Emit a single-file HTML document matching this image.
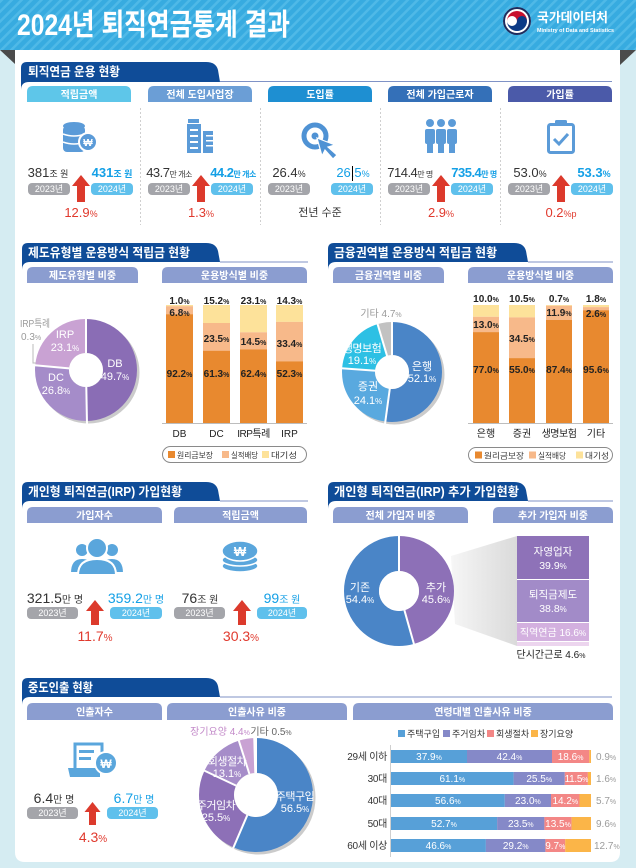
<!DOCTYPE html>
<html><head><meta charset="utf-8">
<style>
html,body{margin:0;padding:0;background:#d5ecf2;}
svg{display:block;font-family:"Liberation Sans","Noto Sans CJK KR",sans-serif;}
</style></head><body>
<svg width="636" height="868" viewBox="0 0 636 868" xmlns="http://www.w3.org/2000/svg">
<defs>
<pattern id="stripes" width="7" height="7" patternUnits="userSpaceOnUse" patternTransform="rotate(45)">
<rect width="7" height="7" fill="#37abe0"/>
<rect width="2.5" height="7" fill="#4fb9e7"/>
</pattern>
<linearGradient id="wedge" x1="0" x2="1" y1="0" y2="0"><stop offset="0" stop-color="#f6f6f6"/><stop offset="1" stop-color="#dadada"/></linearGradient>
</defs>
<rect width="636" height="868" fill="#d5ecf2"/>
<rect width="636" height="50" fill="url(#stripes)"/>
<text x="17" y="35" font-size="30" font-weight="bold" fill="#fff" textLength="273" lengthAdjust="spacingAndGlyphs">2024년 퇴직연금통계 결과</text>
<!-- logo -->
<circle cx="517" cy="21" r="14" fill="#fff"/>
<circle cx="517" cy="21" r="13" fill="none" stroke="#1d2c5e" stroke-width="2"/>
<path d="M507,21 A10,10 0 0 1 527,21 A5,5 0 0 1 517,21 A5,5 0 0 0 507,21 Z" fill="#c8102e"/>
<path d="M507,21 A5,5 0 0 0 517,21 A5,5 0 0 1 527,21 A10,10 0 0 1 507,21 Z" fill="#0b3a86"/>
<text x="537" y="22" font-size="13" font-weight="bold" fill="#fff" textLength="71" lengthAdjust="spacingAndGlyphs">국가데이터처</text>
<text x="537" y="32" font-size="5.5" font-weight="bold" fill="#fff" textLength="77" lengthAdjust="spacingAndGlyphs">Ministry of Data and Statistics</text>

<!-- panel -->
<path d="M15,50 H620 V852 Q620,862 610,862 H25 Q15,862 15,852 Z" fill="#fff"/>
<polygon points="0,50 15,50 15,64" fill="#4b4b4b"/>
<polygon points="620,50 636,50 620,65" fill="#4b4b4b"/>

<!-- ===== Section 1 ===== -->
<path d="M21,82 V68 Q21,62 27,62 H206 Q216,62 218,70 L220,82 Z" fill="#0f4c98"/>
<line x1="220" y1="81.5" x2="612" y2="81.5" stroke="#7f92c6" stroke-width="1"/>
<path d="M21,82 H29 Q21,82 21,90 Z" fill="#0f4c98"/>
<text x="28" y="76" font-size="12.5" font-weight="bold" fill="#fff" textLength="92" lengthAdjust="spacingAndGlyphs">퇴직연금 운용 현황</text>

<g font-size="10" font-weight="bold" fill="#fff" text-anchor="middle">
<path d="M27,102 V92 Q27,86 33,86 H125 Q131,86 131,92 V102 Z" fill="#5ec6e9"/>
<text x="79" y="98">적립금액</text>
<path d="M148,102 V92 Q148,86 154,86 H246 Q252,86 252,92 V102 Z" fill="#6b9ed6"/>
<text x="200" y="98">전체 도입사업장</text>
<path d="M268,102 V92 Q268,86 274,86 H366 Q372,86 372,92 V102 Z" fill="#1e8fd2"/>
<text x="320" y="98">도입률</text>
<path d="M388,102 V92 Q388,86 394,86 H486 Q492,86 492,92 V102 Z" fill="#3470b8"/>
<text x="440" y="98">전체 가입근로자</text>
<path d="M508,102 V92 Q508,86 514,86 H606 Q612,86 612,92 V102 Z" fill="#4b5aa9"/>
<text x="560" y="98">가입률</text>
</g>
<g stroke="#cfcfcf" stroke-width="1" stroke-dasharray="2,2">
<line x1="140.5" y1="108" x2="140.5" y2="225"/>
<line x1="260.5" y1="108" x2="260.5" y2="225"/>
<line x1="380.5" y1="108" x2="380.5" y2="225"/>
<line x1="500.5" y1="108" x2="500.5" y2="225"/>
</g>

<!-- icons section1 -->
<g fill="#5b9bd8">
<ellipse cx="74" cy="126" rx="11" ry="4"/>
<rect x="63" y="126" width="22" height="26" rx="4"/>
</g>
<path d="M63,134 Q74,138 85,134 M63,142 Q74,146 85,142" stroke="#fff" stroke-width="1.6" fill="none"/>
<circle cx="88" cy="142" r="9" fill="#5b9bd8" stroke="#fff" stroke-width="2"/>
<text x="88" y="146" font-size="10" font-weight="bold" fill="#fff" text-anchor="middle">₩</text>

<g fill="#5b9bd8">
<rect x="188" y="119" width="11" height="4"/>
<rect x="187" y="124" width="14" height="29"/>
<rect x="203" y="131" width="10" height="22"/>
</g>
<g fill="#fff">
<rect x="190" y="129" width="8" height="2"/><rect x="190" y="135" width="8" height="2"/><rect x="190" y="141" width="8" height="2"/><rect x="190" y="147" width="8" height="2"/>
<rect x="206" y="135" width="7" height="1.5"/><rect x="206" y="140" width="7" height="1.5"/><rect x="206" y="145" width="7" height="1.5"/>
</g>

<circle cx="315" cy="136" r="11" fill="none" stroke="#4f92d4" stroke-width="5"/>
<circle cx="315" cy="136" r="3.5" fill="#4f92d4"/>
<polygon points="317,138 335,145 328,147 337,155 333,159 325,150 322,156" fill="#4f92d4" stroke="#fff" stroke-width="1.2"/>

<g fill="#5b9bd8">
<circle cx="430" cy="123" r="4"/><circle cx="441" cy="123" r="4"/><circle cx="452" cy="123" r="4"/>
<rect x="425" y="129" width="10" height="15" rx="2"/><rect x="436" y="129" width="10" height="15" rx="2"/><rect x="447" y="129" width="10" height="15" rx="2"/>
<rect x="427" y="143" width="6" height="10"/><rect x="438" y="143" width="6" height="10"/><rect x="449" y="143" width="6" height="10"/>
</g>

<rect x="548.5" y="124.5" width="25" height="28" rx="2" fill="none" stroke="#5b9bd8" stroke-width="3"/>
<rect x="555" y="120" width="12" height="6" rx="1.5" fill="#5b9bd8"/>
<path d="M554,139 L559,144 L568,134" fill="none" stroke="#5b9bd8" stroke-width="3"/>

<!-- values section1 -->
<g font-size="13" text-anchor="middle">
<text x="48" y="177" fill="#333">381<tspan font-size="9">조 원</tspan></text>
<text x="112" y="177" fill="#14a0e6" font-weight="bold">431<tspan font-size="9">조 원</tspan></text>
<text x="169" y="177" fill="#333" letter-spacing="-0.5">43.7<tspan font-size="8">만 개소</tspan></text>
<text x="233" y="177" fill="#14a0e6" font-weight="bold" letter-spacing="-0.5">44.2<tspan font-size="8">만 개소</tspan></text>
<text x="289" y="177" fill="#333">26.4<tspan font-size="9">%</tspan></text>
<text x="353" y="177" fill="#14a0e6">26.5<tspan font-size="9">%</tspan></text>
<text x="410" y="177" fill="#333" letter-spacing="-0.5">714.4<tspan font-size="8">만 명</tspan></text>
<text x="474" y="177" fill="#14a0e6" font-weight="bold" letter-spacing="-0.5">735.4<tspan font-size="8">만 명</tspan></text>
<text x="530" y="177" fill="#333">53.0<tspan font-size="9">%</tspan></text>
<text x="594" y="177" fill="#14a0e6" font-weight="bold">53.3<tspan font-size="9">%</tspan></text>
</g>
<line x1="352.5" y1="166" x2="352.5" y2="181" stroke="#000" stroke-width="1"/>

<g font-size="9" fill="#fff" text-anchor="middle">
<rect x="28" y="183" width="42" height="12" rx="4" fill="#a4a5aa"/><text x="49" y="192">2023년</text>
<rect x="91" y="183" width="42" height="12" rx="4" fill="#5fc0ec"/><text x="112" y="192">2024년</text>
<rect x="148" y="183" width="42" height="12" rx="4" fill="#a4a5aa"/><text x="169" y="192">2023년</text>
<rect x="211" y="183" width="42" height="12" rx="4" fill="#5fc0ec"/><text x="232" y="192">2024년</text>
<rect x="268" y="183" width="42" height="12" rx="4" fill="#a4a5aa"/><text x="289" y="192">2023년</text>
<rect x="331" y="183" width="42" height="12" rx="4" fill="#5fc0ec"/><text x="352" y="192">2024년</text>
<rect x="388" y="183" width="42" height="12" rx="4" fill="#a4a5aa"/><text x="409" y="192">2023년</text>
<rect x="451" y="183" width="42" height="12" rx="4" fill="#5fc0ec"/><text x="472" y="192">2024년</text>
<rect x="508" y="183" width="42" height="12" rx="4" fill="#a4a5aa"/><text x="529" y="192">2023년</text>
<rect x="571" y="183" width="42" height="12" rx="4" fill="#5fc0ec"/><text x="592" y="192">2024년</text>
</g>
<g fill="#dc3a2c">
<path d="M81,175 L90,186 L85,186 L85,202 L77,202 L77,186 L72,186 Z"/>
<path d="M201,175 L210,186 L205,186 L205,202 L197,202 L197,186 L192,186 Z"/>
<path d="M441,175 L450,186 L445,186 L445,202 L437,202 L437,186 L432,186 Z"/>
<path d="M561,175 L570,186 L565,186 L565,202 L557,202 L557,186 L552,186 Z"/>
</g>
<g font-size="13" text-anchor="middle" fill="#e0392d">
<text x="81" y="217">12.9<tspan font-size="9">%</tspan></text>
<text x="201" y="217">1.3<tspan font-size="9">%</tspan></text>
<text x="441" y="217">2.9<tspan font-size="9">%</tspan></text>
<text x="561" y="217">0.2<tspan font-size="9">%p</tspan></text>
</g>
<text x="320" y="216" font-size="11" text-anchor="middle" fill="#333">전년 수준</text>

<!-- ===== Section 2 left ===== -->
<path d="M22,262 V249 Q22,243 28,243 H206 Q216,243 218,251 L220,262 Z" fill="#0f4c98"/>
<line x1="220" y1="262" x2="308" y2="262" stroke="#7f92c6" stroke-width="1"/>
<path d="M22,262 H30 Q22,262 22,270 Z" fill="#0f4c98"/>
<text x="28" y="257" font-size="12.5" font-weight="bold" fill="#fff" textLength="162" lengthAdjust="spacingAndGlyphs">제도유형별 운용방식 적립금 현황</text>

<!-- ===== Section 2 right ===== -->
<path d="M328,262 V249 Q328,243 334,243 H514 Q524,243 526,251 L528,262 Z" fill="#0f4c98"/>
<line x1="528" y1="262" x2="613" y2="262" stroke="#7f92c6" stroke-width="1"/>
<path d="M328,262 H336 Q328,262 328,270 Z" fill="#0f4c98"/>
<text x="334" y="257" font-size="12.5" font-weight="bold" fill="#fff" textLength="163" lengthAdjust="spacingAndGlyphs">금융권역별 운용방식 적립금 현황</text>

<g font-size="10" font-weight="bold" fill="#fff" text-anchor="middle">
<path d="M27,283 V273 Q27,267 33,267 H132 Q138,267 138,273 V283 Z" fill="#8b9dd0"/>
<text x="82.5" y="279">제도유형별 비중</text>
<path d="M162,283 V273 Q162,267 168,267 H301 Q307,267 307,273 V283 Z" fill="#8b9dd0"/>
<text x="234.5" y="279">운용방식별 비중</text>
<path d="M333,283 V273 Q333,267 339,267 H438 Q444,267 444,273 V283 Z" fill="#8b9dd0"/>
<text x="388.5" y="279">금융권역별 비중</text>
<path d="M468,283 V273 Q468,267 474,267 H607 Q613,267 613,273 V283 Z" fill="#8b9dd0"/>
<text x="540.5" y="279">운용방식별 비중</text>
</g>

<!-- donut 1 -->
<circle cx="88.5" cy="372.5" r="51" fill="#cbcbcb"/>
<g fill="none" stroke-width="34" transform="rotate(-90 86 370)">
<circle cx="86" cy="370" r="34" stroke="#8a6db5" stroke-dasharray="106.17 213.63"/>
<circle cx="86" cy="370" r="34" stroke="#a58cc9" stroke-dasharray="57.25 213.63" stroke-dashoffset="-106.17"/>
<circle cx="86" cy="370" r="34" stroke="#c9a2d3" stroke-dasharray="49.35 213.63" stroke-dashoffset="-163.42"/>
<circle cx="86" cy="370" r="34" stroke="#e6d6ea" stroke-dasharray="0.9 213.63" stroke-dashoffset="-212.73"/>
</g>
<circle cx="86" cy="370" r="17" fill="#fff"/>
<g stroke="#fff" stroke-width="2">
<line x1="86" y1="353" x2="86" y2="316"/>
<line x1="86.3" y1="387" x2="87" y2="424"/>
<line x1="69.1" y1="368.4" x2="32" y2="365"/>
</g>
<polyline points="33,344 33,363 36,363" fill="none" stroke="#bbb" stroke-width="1"/>
<g font-size="11" fill="#fff" text-anchor="middle">
<text x="115" y="367">DB</text><text x="115" y="380">49.7<tspan font-size="8">%</tspan></text>
<text x="56" y="381">DC</text><text x="56" y="394">26.8<tspan font-size="8">%</tspan></text>
<text x="65" y="338">IRP</text><text x="65" y="351">23.1<tspan font-size="8">%</tspan></text>
</g>
<g font-size="10" fill="#9a9a9a">
<text x="20" y="327" textLength="30" lengthAdjust="spacingAndGlyphs">IRP특례</text><text x="21" y="340">0.3<tspan font-size="7">%</tspan></text>
</g>

<!-- bars section 2 left -->
<line x1="162" y1="423.5" x2="307" y2="423.5" stroke="#bdbdbd" stroke-width="1"/>
<g>
<rect x="166" y="305" width="27" height="1.2" fill="#fde29a"/>
<rect x="166" y="306.2" width="27" height="8" fill="#f7b98a"/>
<rect x="166" y="314.2" width="27" height="108.8" fill="#e8892f"/>
<rect x="203" y="305" width="27" height="18" fill="#fde29a"/>
<rect x="203" y="323" width="27" height="27.7" fill="#f7b98a"/>
<rect x="203" y="350.7" width="27" height="72.3" fill="#e8892f"/>
<rect x="240" y="305" width="27" height="27.3" fill="#fde29a"/>
<rect x="240" y="332.3" width="27" height="17.1" fill="#f7b98a"/>
<rect x="240" y="349.4" width="27" height="73.6" fill="#e8892f"/>
<rect x="276" y="305" width="27" height="16.9" fill="#fde29a"/>
<rect x="276" y="321.9" width="27" height="39.4" fill="#f7b98a"/>
<rect x="276" y="361.3" width="27" height="61.7" fill="#e8892f"/>
</g>
<g font-size="10" fill="#222" text-anchor="middle" font-weight="bold">
<text x="179.5" y="304">1.0<tspan font-size="7">%</tspan></text>
<text x="216.5" y="304">15.2<tspan font-size="7">%</tspan></text>
<text x="253.5" y="304">23.1<tspan font-size="7">%</tspan></text>
<text x="289.5" y="304">14.3<tspan font-size="7">%</tspan></text>
<text x="179.5" y="316">6.8<tspan font-size="7">%</tspan></text>
<text x="216.5" y="342">23.5<tspan font-size="7">%</tspan></text>
<text x="253.5" y="345">14.5<tspan font-size="7">%</tspan></text>
<text x="289.5" y="347">33.4<tspan font-size="7">%</tspan></text>
<text x="179.5" y="377">92.2<tspan font-size="7">%</tspan></text>
<text x="216.5" y="377">61.3<tspan font-size="7">%</tspan></text>
<text x="253.5" y="377">62.4<tspan font-size="7">%</tspan></text>
<text x="289.5" y="377">52.3<tspan font-size="7">%</tspan></text>
</g>
<g font-size="10" fill="#222" text-anchor="middle">
<text x="179.5" y="437">DB</text>
<text x="216.5" y="437">DC</text>
<text x="253.5" y="437" letter-spacing="-0.5">IRP특례</text>
<text x="289.5" y="437">IRP</text>
</g>
<rect x="162.5" y="446.5" width="144" height="16" rx="8" fill="none" stroke="#8a8a8a" stroke-width="1"/>
<g font-size="8" fill="#333">
<rect x="168" y="451" width="7" height="7" fill="#e8892f"/><text x="177" y="458" textLength="36" lengthAdjust="spacingAndGlyphs">원리금보장</text>
<rect x="222" y="451" width="7" height="7" fill="#f7b98a"/><text x="231" y="458" textLength="27" lengthAdjust="spacingAndGlyphs">실적배당</text>
<rect x="262" y="451" width="7" height="7" fill="#fde29a"/><text x="271" y="458" textLength="26" lengthAdjust="spacingAndGlyphs">대기성</text>
</g>

<!-- donut 2 -->
<circle cx="394.5" cy="374.5" r="50" fill="#cbcbcb"/>
<g fill="none" stroke-width="33" transform="rotate(-90 392 372)">
<circle cx="392" cy="372" r="33.5" stroke="#4a85c7" stroke-dasharray="109.66 210.49"/>
<circle cx="392" cy="372" r="33.5" stroke="#59a9df" stroke-dasharray="50.73 210.49" stroke-dashoffset="-109.66"/>
<circle cx="392" cy="372" r="33.5" stroke="#2dc0e4" stroke-dasharray="40.2 210.49" stroke-dashoffset="-160.39"/>
<circle cx="392" cy="372" r="33.5" stroke="#c2c2c2" stroke-dasharray="9.9 210.49" stroke-dashoffset="-200.59"/>
</g>
<circle cx="392" cy="372" r="17" fill="#fff"/>
<g stroke="#fff" stroke-width="2">
<line x1="392" y1="355" x2="392" y2="320"/>
<line x1="389.9" y1="388" x2="385" y2="424"/>
<line x1="376" y1="370.8" x2="338" y2="368"/>
<line x1="387.3" y1="356.7" x2="376.5" y2="320.5"/>
</g>
<g font-size="11" fill="#fff" text-anchor="middle">
<text x="422" y="370">은행</text><text x="422" y="382">52.1<tspan font-size="8">%</tspan></text>
<text x="368" y="390">증권</text><text x="368" y="404">24.1<tspan font-size="8">%</tspan></text>
<text x="362" y="352" letter-spacing="-0.5">생명보험</text><text x="362" y="364">19.1<tspan font-size="8">%</tspan></text>
</g>
<text x="381" y="317" font-size="10" fill="#9a9a9a" text-anchor="middle">기타 4.7<tspan font-size="7">%</tspan></text>

<!-- bars section 2 right -->
<line x1="468" y1="423.5" x2="613" y2="423.5" stroke="#bdbdbd" stroke-width="1"/>
<g>
<rect x="473" y="305" width="26" height="11.8" fill="#fde29a"/>
<rect x="473" y="316.8" width="26" height="15.3" fill="#f7b98a"/>
<rect x="473" y="332.1" width="26" height="90.9" fill="#e8892f"/>
<rect x="509" y="305" width="26" height="12.4" fill="#fde29a"/>
<rect x="509" y="317.4" width="26" height="40.7" fill="#f7b98a"/>
<rect x="509" y="358.1" width="26" height="64.9" fill="#e8892f"/>
<rect x="546" y="305" width="26" height="0.8" fill="#fde29a"/>
<rect x="546" y="305.8" width="26" height="14.1" fill="#f7b98a"/>
<rect x="546" y="319.9" width="26" height="103.1" fill="#e8892f"/>
<rect x="583" y="305" width="26" height="2.1" fill="#fde29a"/>
<rect x="583" y="307.1" width="26" height="3.1" fill="#f7b98a"/>
<rect x="583" y="310.2" width="26" height="112.8" fill="#e8892f"/>
</g>
<g font-size="10" fill="#222" text-anchor="middle" font-weight="bold">
<text x="486" y="302">10.0<tspan font-size="7">%</tspan></text>
<text x="522" y="302">10.5<tspan font-size="7">%</tspan></text>
<text x="559" y="302">0.7<tspan font-size="7">%</tspan></text>
<text x="596" y="302">1.8<tspan font-size="7">%</tspan></text>
<text x="486" y="328">13.0<tspan font-size="7">%</tspan></text>
<text x="522" y="342">34.5<tspan font-size="7">%</tspan></text>
<text x="559" y="316">11.9<tspan font-size="7">%</tspan></text>
<text x="596" y="317">2.6<tspan font-size="7">%</tspan></text>
<text x="486" y="373">77.0<tspan font-size="7">%</tspan></text>
<text x="522" y="373">55.0<tspan font-size="7">%</tspan></text>
<text x="559" y="373">87.4<tspan font-size="7">%</tspan></text>
<text x="596" y="373">95.6<tspan font-size="7">%</tspan></text>
</g>
<g font-size="10" fill="#222" text-anchor="middle">
<text x="486" y="437">은행</text>
<text x="522" y="437">증권</text>
<text x="559" y="437" letter-spacing="-0.5">생명보험</text>
<text x="596" y="437">기타</text>
</g>
<rect x="468.5" y="447.5" width="144" height="15" rx="7.5" fill="none" stroke="#8a8a8a" stroke-width="1"/>
<g font-size="8" fill="#333">
<rect x="475" y="451.5" width="7" height="7" fill="#e8892f"/><text x="484" y="458.5" textLength="40" lengthAdjust="spacingAndGlyphs">원리금보장</text>
<rect x="529" y="451.5" width="7" height="7" fill="#f7b98a"/><text x="538" y="458.5" textLength="28" lengthAdjust="spacingAndGlyphs">실적배당</text>
<rect x="576" y="451.5" width="7" height="7" fill="#fde29a"/><text x="585" y="458.5" textLength="24" lengthAdjust="spacingAndGlyphs">대기성</text>
</g>

<!-- ===== Section 3 left ===== -->
<path d="M22,501 V488 Q22,482 28,482 H206 Q216,482 218,490 L220,501 Z" fill="#0f4c98"/>
<line x1="220" y1="501" x2="308" y2="501" stroke="#7f92c6" stroke-width="1"/>
<path d="M22,501 H30 Q22,501 22,509 Z" fill="#0f4c98"/>
<text x="28" y="496" font-size="12.5" font-weight="bold" fill="#fff" textLength="154" lengthAdjust="spacingAndGlyphs">개인형 퇴직연금(IRP) 가입현황</text>

<path d="M328,501 V488 Q328,482 334,482 H514 Q524,482 526,490 L528,501 Z" fill="#0f4c98"/>
<line x1="528" y1="501" x2="613" y2="501" stroke="#7f92c6" stroke-width="1"/>
<path d="M328,501 H336 Q328,501 328,509 Z" fill="#0f4c98"/>
<text x="334" y="496" font-size="12.5" font-weight="bold" fill="#fff" textLength="185" lengthAdjust="spacingAndGlyphs">개인형 퇴직연금(IRP) 추가 가입현황</text>

<g font-size="10" font-weight="bold" fill="#fff" text-anchor="middle">
<path d="M27,523 V513 Q27,507 33,507 H156 Q162,507 162,513 V523 Z" fill="#8b9dd0"/>
<text x="94.5" y="519">가입자수</text>
<path d="M174,523 V513 Q174,507 180,507 H301 Q307,507 307,513 V523 Z" fill="#8b9dd0"/>
<text x="240.5" y="519">적립금액</text>
<path d="M333,523 V513 Q333,507 339,507 H462 Q468,507 468,513 V523 Z" fill="#8b9dd0"/>
<text x="400.5" y="519">전체 가입자 비중</text>
<path d="M493,523 V513 Q493,507 499,507 H607 Q613,507 613,513 V523 Z" fill="#8b9dd0"/>
<text x="553" y="519">추가 가입자 비중</text>
</g>

<!-- people icon -->
<g fill="#5aa6dc" stroke="#fff" stroke-width="2">
<circle cx="82" cy="550" r="7"/>
<circle cx="112" cy="550" r="7"/>
<path d="M70,573 Q70,558 82,558 Q92,558 94,566 L94,573 Z"/>
<path d="M100,573 L100,566 Q102,558 112,558 Q124,558 124,573 Z"/>
<circle cx="97" cy="548" r="10"/>
<path d="M78,575 Q78,559 97,559 Q116,559 116,575 Z"/>
</g>
<!-- coin icon -->
<g fill="#5aa6dc" stroke="#fff" stroke-width="1.5">
<ellipse cx="240" cy="566" rx="18" ry="6"/>
<ellipse cx="240" cy="560" rx="18" ry="6"/>
<ellipse cx="240" cy="551" rx="18" ry="10"/>
</g>
<text x="240" y="556" font-size="13" font-weight="bold" fill="#fff" text-anchor="middle">₩</text>

<g text-anchor="middle">
<text x="55" y="603" font-size="14" fill="#333">321.5<tspan font-size="10">만 명</tspan></text>
<text x="136" y="603" font-size="14" fill="#14a0e6">359.2<tspan font-size="10">만 명</tspan></text>
<text x="200" y="603" font-size="14" fill="#333">76<tspan font-size="10">조 원</tspan></text>
<text x="282" y="603" font-size="14" fill="#14a0e6">99<tspan font-size="10">조 원</tspan></text>
</g>
<g font-size="9" fill="#fff" text-anchor="middle">
<rect x="27" y="607" width="51" height="12" rx="4" fill="#a4a5aa"/><text x="52.5" y="616">2023년</text>
<rect x="110" y="607" width="52" height="12" rx="4" fill="#5fc0ec"/><text x="136" y="616">2024년</text>
<rect x="174" y="607" width="51" height="12" rx="4" fill="#a4a5aa"/><text x="199.5" y="616">2023년</text>
<rect x="257" y="607" width="50" height="12" rx="4" fill="#5fc0ec"/><text x="282" y="616">2024년</text>
</g>
<g fill="#dc3a2c">
<path d="M95,600 L104,611 L99,611 L99,625 L91,625 L91,611 L86,611 Z"/>
<path d="M242,600 L251,611 L246,611 L246,625 L238,625 L238,611 L233,611 Z"/>
</g>
<g font-size="14" text-anchor="middle" fill="#e0392d">
<text x="95" y="641">11.7<tspan font-size="10">%</tspan></text>
<text x="241" y="641">30.3<tspan font-size="10">%</tspan></text>
</g>

<!-- section 3 right donut -->
<polygon points="451,556 517,536 517,646 455,624" fill="url(#wedge)"/>
<g fill="none" stroke-width="35" transform="rotate(-90 399 591)">
<circle cx="399" cy="591" r="37.5" stroke="#8d70b7" stroke-dasharray="107.44 235.62"/>
<circle cx="399" cy="591" r="37.5" stroke="#4a85c7" stroke-dasharray="128.18 235.62" stroke-dashoffset="-107.44"/>
</g>
<circle cx="399" cy="591" r="20" fill="#fff"/>
<g stroke="#fff" stroke-width="2">
<line x1="399" y1="571" x2="399" y2="534"/>
<line x1="404.4" y1="610.2" x2="414.5" y2="646"/>
</g>
<g font-size="11" fill="#fff" text-anchor="middle">
<text x="436" y="591">추가</text><text x="436" y="603">45.6<tspan font-size="8">%</tspan></text>
<text x="360" y="591">기존</text><text x="360" y="603">54.4<tspan font-size="8">%</tspan></text>
</g>
<rect x="517" y="536" width="72" height="43" fill="#8e72b8"/>
<rect x="517" y="580" width="72" height="42" fill="#a28bc8"/>
<rect x="517" y="623" width="72" height="18" fill="#d3b0df"/>
<rect x="517" y="642" width="72" height="4" fill="#ecd5ee"/>
<g font-size="10.5" fill="#fff" text-anchor="middle">
<text x="553" y="555">자영업자</text><text x="553" y="569">39.9<tspan font-size="8">%</tspan></text>
<text x="553" y="598">퇴직금제도</text><text x="553" y="612">38.8<tspan font-size="8">%</tspan></text>
<text x="553" y="636" font-size="10">직역연금 16.6<tspan font-size="8">%</tspan></text>
</g>
<text x="551" y="658" font-size="10" fill="#222" text-anchor="middle">단시간근로 4.6<tspan font-size="7">%</tspan></text>

<!-- ===== Section 4 ===== -->
<path d="M22,697 V684 Q22,678 28,678 H206 Q216,678 218,686 L220,697 Z" fill="#0f4c98"/>
<line x1="220" y1="697" x2="612" y2="697" stroke="#7f92c6" stroke-width="1"/>
<path d="M22,697 H30 Q22,697 22,705 Z" fill="#0f4c98"/>
<text x="28" y="692" font-size="12.5" font-weight="bold" fill="#fff" textLength="65" lengthAdjust="spacingAndGlyphs">중도인출 현황</text>

<g font-size="10" font-weight="bold" fill="#fff" text-anchor="middle">
<path d="M27,720 V709 Q27,703 33,703 H156 Q162,703 162,709 V720 Z" fill="#8b9dd0"/>
<text x="94.5" y="715.5">인출자수</text>
<path d="M167,720 V709 Q167,703 173,703 H341 Q347,703 347,709 V720 Z" fill="#8b9dd0"/>
<text x="257" y="715.5">인출사유 비중</text>
<path d="M353,720 V709 Q353,703 359,703 H607 Q613,703 613,709 V720 Z" fill="#8b9dd0"/>
<text x="483" y="715.5">연령대별 인출사유 비중</text>
</g>

<!-- withdraw icon -->
<path d="M102,754 V744 H75 V768" fill="none" stroke="#5aa6dc" stroke-width="3"/>
<rect x="79" y="750" width="15" height="3" fill="#5aa6dc"/>
<rect x="79" y="757" width="12" height="3" fill="#5aa6dc"/>
<polygon points="68,768 100,768 100,777 70,777" fill="#5aa6dc"/>
<circle cx="106" cy="763" r="11" fill="#5aa6dc" stroke="#fff" stroke-width="2"/>
<text x="106" y="768" font-size="12" font-weight="bold" fill="#fff" text-anchor="middle">₩</text>

<g text-anchor="middle">
<text x="54" y="803" font-size="14" fill="#333">6.4<tspan font-size="10">만 명</tspan></text>
<text x="134" y="803" font-size="14" fill="#14a0e6">6.7<tspan font-size="10">만 명</tspan></text>
</g>
<g font-size="9" fill="#fff" text-anchor="middle">
<rect x="27" y="807" width="51" height="12" rx="4" fill="#a4a5aa"/><text x="52.5" y="816">2023년</text>
<rect x="107" y="807" width="51" height="12" rx="4" fill="#5fc0ec"/><text x="132.5" y="816">2024년</text>
</g>
<path d="M92.5,802 L100.5,812 L96,812 L96,825 L89,825 L89,812 L84.5,812 Z" fill="#dc3a2c"/>
<text x="93" y="842" font-size="14" text-anchor="middle" fill="#e0392d">4.3<tspan font-size="10">%</tspan></text>

<!-- donut 4 -->
<circle cx="258.5" cy="797.5" r="57" fill="#cbcbcb"/>
<g fill="none" stroke-width="35" transform="rotate(-90 256 795)">
<circle cx="256" cy="795" r="39.5" stroke="#4a85c7" stroke-dasharray="140.23 248.19"/>
<circle cx="256" cy="795" r="39.5" stroke="#8d70b7" stroke-dasharray="63.29 248.19" stroke-dashoffset="-140.23"/>
<circle cx="256" cy="795" r="39.5" stroke="#a68dc9" stroke-dasharray="32.51 248.19" stroke-dashoffset="-203.52"/>
<circle cx="256" cy="795" r="39.5" stroke="#c9a2d3" stroke-dasharray="10.92 248.19" stroke-dashoffset="-236.03"/>
<circle cx="256" cy="795" r="39.5" stroke="#dedede" stroke-dasharray="1.24 248.19" stroke-dashoffset="-246.95"/>
</g>
<circle cx="256" cy="795" r="22" fill="#fff"/>
<g stroke="#fff" stroke-width="2">
<line x1="256" y1="773" x2="256" y2="736"/>
<line x1="247.3" y1="815.2" x2="233" y2="848.5"/>
<line x1="236.1" y1="785.6" x2="203" y2="770"/>
<line x1="249.4" y1="774" x2="238.3" y2="739"/>
<line x1="255.3" y1="773" x2="254.2" y2="736.5"/>
</g>
<g font-size="11" fill="#fff" text-anchor="middle">
<text x="295" y="800" letter-spacing="-0.5">주택구입</text><text x="295" y="812">56.5<tspan font-size="8">%</tspan></text>
<text x="216" y="809" letter-spacing="-0.5">주거임차</text><text x="216" y="821">25.5<tspan font-size="8">%</tspan></text>
<text x="227" y="765" letter-spacing="-0.5">회생절차</text><text x="227" y="777">13.1<tspan font-size="8">%</tspan></text>
</g>
<text x="220" y="735" font-size="10" fill="#c38ac9" text-anchor="middle">장기요양 4.4<tspan font-size="7">%</tspan></text>
<text x="271" y="735" font-size="10" fill="#666" text-anchor="middle">기타 0.5<tspan font-size="7">%</tspan></text>

<!-- horizontal bars -->
<g font-size="9">
<rect x="398" y="730" width="7" height="7" fill="#57a0d8"/><text x="407" y="737" fill="#333">주택구입</text>
<rect x="443" y="730" width="7" height="7" fill="#8589c8"/><text x="452" y="737" fill="#333">주거임차</text>
<rect x="487" y="730" width="7" height="7" fill="#f38786"/><text x="496" y="737" fill="#333">회생절차</text>
<rect x="531" y="730" width="7" height="7" fill="#fbb548"/><text x="540" y="737" fill="#333">장기요양</text>
</g>
<line x1="390.5" y1="745" x2="390.5" y2="857" stroke="#cfcfcf" stroke-width="1"/>
<g>
<rect x="391" y="750" width="76" height="13" fill="#57a0d8"/>
<rect x="467" y="750" width="85" height="13" fill="#8589c8"/>
<rect x="552" y="750" width="37.3" height="13" fill="#f38786"/>
<rect x="589.3" y="750" width="1.7" height="13" fill="#fbb548"/>

<rect x="391" y="772" width="122.6" height="13" fill="#57a0d8"/>
<rect x="513.6" y="772" width="51.2" height="13" fill="#8589c8"/>
<rect x="564.8" y="772" width="23.1" height="13" fill="#f38786"/>
<rect x="587.9" y="772" width="3.1" height="13" fill="#fbb548"/>

<rect x="391" y="794" width="113.8" height="13" fill="#57a0d8"/>
<rect x="504.8" y="794" width="46.2" height="13" fill="#8589c8"/>
<rect x="551" y="794" width="28.5" height="13" fill="#f38786"/>
<rect x="579.5" y="794" width="11.5" height="13" fill="#fbb548"/>

<rect x="391" y="817" width="106.1" height="13" fill="#57a0d8"/>
<rect x="497.1" y="817" width="47.3" height="13" fill="#8589c8"/>
<rect x="544.4" y="817" width="27.2" height="13" fill="#f38786"/>
<rect x="571.6" y="817" width="19.4" height="13" fill="#fbb548"/>

<rect x="391" y="839" width="94.9" height="13" fill="#57a0d8"/>
<rect x="485.9" y="839" width="59.5" height="13" fill="#8589c8"/>
<rect x="545.4" y="839" width="19.8" height="13" fill="#f38786"/>
<rect x="565.2" y="839" width="25.8" height="13" fill="#fbb548"/>
</g>
<g font-size="10" fill="#fff" text-anchor="middle">
<text x="429" y="760">37.9<tspan font-size="7">%</tspan></text>
<text x="509.5" y="760">42.4<tspan font-size="7">%</tspan></text>
<text x="570.6" y="760">18.6<tspan font-size="7">%</tspan></text>
<text x="452.3" y="782">61.1<tspan font-size="7">%</tspan></text>
<text x="539.2" y="782">25.5<tspan font-size="7">%</tspan></text>
<text x="576.3" y="782" letter-spacing="-0.3">11.5<tspan font-size="7">%</tspan></text>
<text x="447.9" y="804">56.6<tspan font-size="7">%</tspan></text>
<text x="527.9" y="804">23.0<tspan font-size="7">%</tspan></text>
<text x="565.3" y="804">14.2<tspan font-size="7">%</tspan></text>
<text x="444" y="827">52.7<tspan font-size="7">%</tspan></text>
<text x="520.8" y="827">23.5<tspan font-size="7">%</tspan></text>
<text x="558" y="827">13.5<tspan font-size="7">%</tspan></text>
<text x="438.5" y="849">46.6<tspan font-size="7">%</tspan></text>
<text x="515.7" y="849">29.2<tspan font-size="7">%</tspan></text>
<text x="555.3" y="849">9.7<tspan font-size="7">%</tspan></text>
</g>
<g font-size="10" fill="#9c9c9c">
<text x="596" y="760">0.9<tspan font-size="7">%</tspan></text>
<text x="596" y="782">1.6<tspan font-size="7">%</tspan></text>
<text x="596" y="804">5.7<tspan font-size="7">%</tspan></text>
<text x="596" y="827">9.6<tspan font-size="7">%</tspan></text>
<text x="594" y="849">12.7<tspan font-size="7">%</tspan></text>
</g>
<g font-size="10" fill="#333" text-anchor="end" letter-spacing="-0.3">
<text x="387" y="760">29세 이하</text>
<text x="387" y="782">30대</text>
<text x="387" y="804">40대</text>
<text x="387" y="827">50대</text>
<text x="387" y="849">60세 이상</text>
</g>
</svg>
</body></html>
